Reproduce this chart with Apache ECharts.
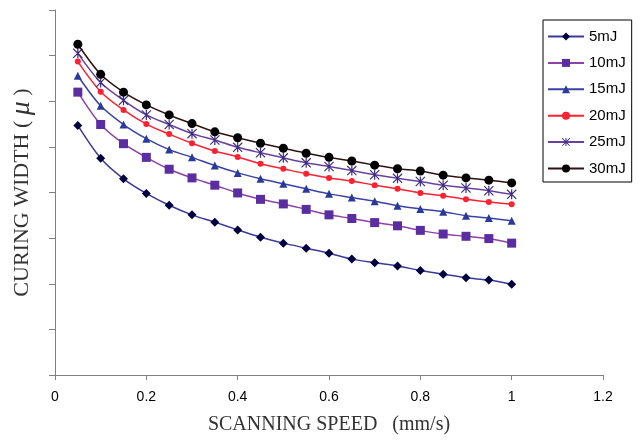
<!DOCTYPE html>
<html>
<head>
<meta charset="utf-8">
<script src="https://cdn.jsdelivr.net/npm/echarts@6/dist/echarts.min.js"></script>
<style>html,body{margin:0;padding:0;background:#fff;}#c{width:641px;height:442px;}</style>
</head>
<body>
<div id="c"></div>
<script>
var speeds = [0.05,0.1,0.15,0.2,0.25,0.3,0.35,0.4,0.45,0.5,0.55,0.6,0.65,0.7,0.75,0.8,0.85,0.9,0.95,1.0];
var xTicks = [0,0.2,0.4,0.6,0.8,1,1.2];
var names = ['5mJ','10mJ','15mJ','20mJ','25mJ','30mJ'];
var w5  = [5.47,4.75,4.30,3.98,3.72,3.51,3.35,3.18,3.02,2.89,2.78,2.67,2.54,2.46,2.39,2.29,2.21,2.13,2.08,1.99];
var w10 = [6.20,5.49,5.07,4.77,4.51,4.32,4.16,3.99,3.85,3.75,3.63,3.51,3.43,3.34,3.27,3.17,3.09,3.04,2.99,2.89];
var w15 = [6.56,5.90,5.49,5.18,4.94,4.77,4.59,4.43,4.30,4.19,4.08,3.97,3.89,3.81,3.71,3.64,3.58,3.49,3.44,3.38];
var w20 = [6.87,6.21,5.81,5.50,5.28,5.08,4.91,4.78,4.63,4.52,4.41,4.32,4.25,4.16,4.08,3.99,3.93,3.85,3.79,3.74];
var w25 = [7.05,6.41,6.02,5.70,5.49,5.29,5.15,4.99,4.87,4.76,4.65,4.57,4.48,4.39,4.31,4.24,4.16,4.10,4.04,3.96];
var w30 = [7.25,6.59,6.20,5.92,5.70,5.51,5.33,5.20,5.08,4.97,4.86,4.77,4.69,4.60,4.52,4.47,4.38,4.32,4.27,4.21];

var allData = [w5,w10,w15,w20,w25,w30];
var lineColors = ['#3a3a9a','#9040a8','#3a42a8','#ff2030','#6a40a0','#301010'];
var markColors = ['#000040','#5a2ea0','#2a3a9a','#ff2030','#3a2a80','#000000'];
var asterisk = 'path://M4.4 0 L5.6 0 L5.6 10 L4.4 10 Z M0.8 0 L10 9.2 L9.2 10 L0 0.8 Z M9.2 0 L10 0.8 L0.8 10 L0 9.2 Z';
var symbols = ['diamond','rect','triangle','circle',asterisk,'circle'];
var symSizes = [9,9,8,6,10,9];

var series = allData.map(function(d,i){
  return {
    name: names[i],
    type: 'line',
    smooth: 0.3,
    data: speeds.map(function(s,j){ return [s,d[j]]; }),
    symbol: symbols[i],
    symbolSize: symSizes[i],
    showSymbol: true,
    lineStyle: {color: lineColors[i], width: 1.5},
    itemStyle: {color: markColors[i], borderWidth: 0},
    emphasis: {disabled: true},
    z: 2 + i
  };
});

var chart = echarts.init(document.getElementById('c'), null, {renderer:'canvas'});
chart.setOption({
  animation: false,
  backgroundColor: '#ffffff',
  grid: {left: 55, right: 38, top: 10, bottom: 67, containLabel: false},
  legend: {
    orient: 'vertical',
    left: 543, top: 20,
    padding: [9, 6, 6, 4],
    itemGap: 11.4,
    itemWidth: 36,
    itemHeight: 10,
    borderColor: '#000000',
    borderWidth: 1,
    backgroundColor: '#ffffff',
    textStyle: {fontFamily: 'Liberation Sans, Arial, sans-serif', fontSize: 15, color: '#000'},
    data: names
  },
  xAxis: {
    type: 'value',
    min: 0, max: 1.2, interval: 0.2,
    name: 'SCANNING SPEED   (mm/s)',
    nameLocation: 'middle',
    nameGap: 40,
    nameTextStyle: {fontFamily: 'Liberation Serif, Times New Roman, serif', fontSize: 20, color: '#333'},
    axisLine: {lineStyle: {color: '#808080', width: 1}},
    axisTick: {show: true, length: 5, lineStyle: {color: '#808080'}},
    splitLine: {show: false},
    axisLabel: {
      fontFamily: 'Liberation Sans, Arial, sans-serif', fontSize: 14, color: '#000', margin: 15,
      formatter: function(v){
        for (var k=0;k<xTicks.length;k++){ if (Math.abs(xTicks[k]-v)<1e-9) return String(xTicks[k]); }
        return '';
      }
    }
  },
  yAxis: {
    type: 'value',
    min: 0, max: 8, interval: 1,
    name: 'CURING WIDTH ( {mu|μ} )',
    nameLocation: 'middle',
    nameRotate: 90,
    nameGap: 19,
    nameTextStyle: {
      fontFamily: 'Liberation Serif, Times New Roman, serif', fontSize: 22, color: '#333',
      rich: {mu: {fontFamily: 'Liberation Serif, Times New Roman, serif', fontSize: 28, fontStyle: 'italic', color: '#333'}}
    },
    axisLine: {show: true, lineStyle: {color: '#808080', width: 1}},
    axisTick: {show: true, length: 6, lineStyle: {color: '#808080'}},
    axisLabel: {show: false},
    splitLine: {show: false}
  },
  series: series
});
</script>
</body>
</html>
